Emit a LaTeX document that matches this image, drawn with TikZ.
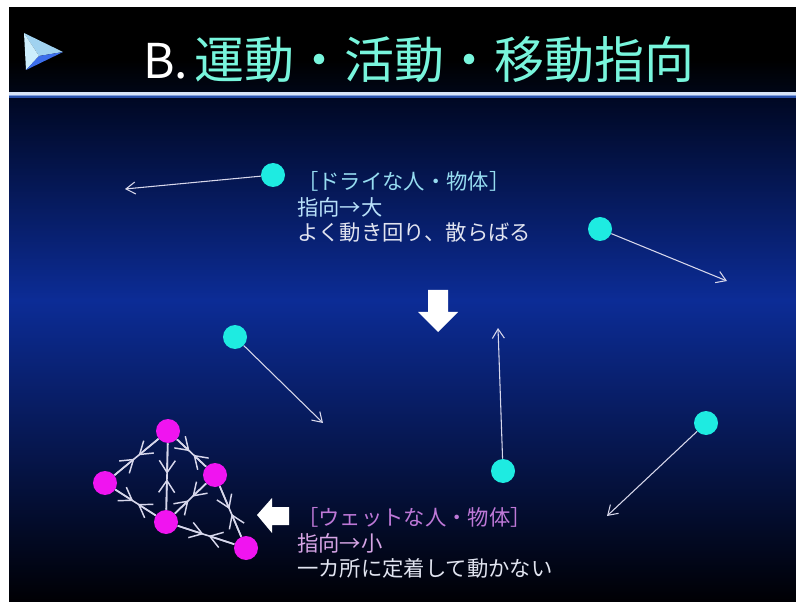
\documentclass[tikz,border=0pt]{standalone}
\usepackage{fontspec}
\setmainfont{Noto Sans CJK JP}
\usetikzlibrary{arrows.meta,calc}
\definecolor{bgtop}{RGB}{0,8,36}
\definecolor{bgmid}{RGB}{12,44,150}
\definecolor{bgbot}{RGB}{0,0,4}
\definecolor{barbot}{RGB}{0,6,22}
\definecolor{linewhite}{RGB}{215,228,248}
\definecolor{linelb}{RGB}{130,160,220}
\definecolor{lineblue}{RGB}{40,80,170}
\definecolor{titleaqua}{RGB}{120,245,220}
\definecolor{dotcyan}{RGB}{30,235,225}
\definecolor{dotmag}{RGB}{240,20,240}
\definecolor{arrowgray}{RGB}{215,215,235}
\definecolor{drycol}{RGB}{150,220,240}
\definecolor{drycolb}{RGB}{185,225,250}
\definecolor{txtwhite}{RGB}{225,228,240}
\definecolor{wetcol}{RGB}{190,120,215}
\definecolor{wetcolb}{RGB}{215,165,230}
\definecolor{triA}{RGB}{205,238,252}
\definecolor{triB}{RGB}{160,210,240}
\definecolor{triC}{RGB}{60,110,235}
\begin{document}
\begin{tikzpicture}[x=0.75pt,y=-0.75pt,
  cdot/.style={circle,fill=dotcyan,draw=none,minimum size=18pt,inner sep=0pt},
  mdot/.style={circle,fill=dotmag,draw=none,minimum size=18pt,inner sep=0pt},
  carrow/.style={draw=arrowgray,line width=0.8pt,-{Straight Barb[length=7pt,width=9pt]}},
  medge/.style={draw=arrowgray,line width=1.2pt},
  mtip/.style={draw=arrowgray,line width=1.2pt,-{Straight Barb[length=9pt,width=12pt,line width=1.1pt]}},
  bodytxt/.style={anchor=base west,inner sep=0pt,font=\fontsize{16}{19}\selectfont},
  bigarrow/.style={fill=white,draw=none}]
\useasboundingbox (0,0) rectangle (796,602);
\fill[white] (0,0) rectangle (796,602);
% title bar
\fill[black] (9,7) rectangle (796,92);
\shade[top color=black,bottom color=barbot] (9,60) rectangle (796,92);
\fill[linewhite] (9,92) rectangle (796,95);
\fill[linelb] (9,95) rectangle (796,96.5);
\fill[lineblue] (9,96.5) rectangle (796,99);
% background
\shade[top color=bgtop,bottom color=bgmid] (9,99) rectangle (796,300.5);
\shade[top color=bgmid,bottom color=bgbot] (9,300) rectangle (796,602);
% triangle icon
\fill[triB] (24,33) -- (63,52) -- (39,56) -- cycle;
\fill[triA] (24,33) -- (39,56) -- (26,70) -- cycle;
\fill[triC] (39,56) -- (63,52) -- (26,70) -- cycle;
% title
\node[anchor=base west,inner sep=0pt,font=\fontsize{36}{40}\selectfont,text=white] (tb) at (143,79) {B.};
\node[anchor=base west,inner sep=0pt,font=\fontsize{37.5}{40}\selectfont,text=titleaqua] (tt) at (194,79) {運動・活動・移動指向};
% cyan dots and arrows
\node[cdot] (c1) at (273,175) {};
\node[cdot] (c2) at (600,229) {};
\node[cdot] (c3) at (235,337) {};
\node[cdot] (c4) at (503,471) {};
\node[cdot] (c5) at (706,423) {};
\coordinate (e1) at (125,189);
\coordinate (e2) at (727,281);
\coordinate (e3) at (323,423);
\coordinate (e4) at (498,328);
\coordinate (e5) at (607,516);
\draw[carrow] (c1) -- (e1);
\draw[carrow] (c2) -- (e2);
\draw[carrow] (c3) -- (e3);
\draw[carrow] (c4) -- (e4);
\draw[carrow] (c5) -- (e5);
% dry text
\node[bodytxt,text=drycol] (d1) at (297,190) {［ドライな人・物体］};
\node[bodytxt,text=drycolb] (d2) at (297,216) {指向→大};
\node[bodytxt,text=txtwhite] (d3) at (297,241) {よく動き回り、散らばる};
% big arrows
\fill[bigarrow] (428,290) -- (448,290) -- (448,312) -- (458,312) -- (438,332) -- (418,312) -- (428,312) -- cycle;
\fill[bigarrow] (257,515) -- (272,498) -- (272,507) -- (289,507) -- (289,525) -- (272,525) -- (272,533) -- cycle;
% wet text
\node[bodytxt,text=wetcol] (w1) at (297,525) {［ウェットな人・物体］};
\node[bodytxt,text=wetcolb] (w2) at (297,551) {指向→小};
\node[bodytxt,text=txtwhite] (w3) at (297,576) {一カ所に定着して動かない};
% magenta cluster
\node[mdot] (A) at (168,431) {};
\node[mdot] (B) at (105,483) {};
\node[mdot] (C) at (215,475) {};
\node[mdot] (D) at (166,522) {};
\node[mdot] (E) at (246,548) {};
\foreach \p/\q in {A/B,A/C,A/D,B/D,C/D,C/E,D/E}{
  \draw[medge] (\p) -- (\q);
  \draw[mtip] (\p) -- ($(\p)!0.5!(\q)!2pt!(\p)$);
  \draw[mtip] (\q) -- ($(\q)!0.5!(\p)!2pt!(\q)$);
}
\end{tikzpicture}
\end{document}
